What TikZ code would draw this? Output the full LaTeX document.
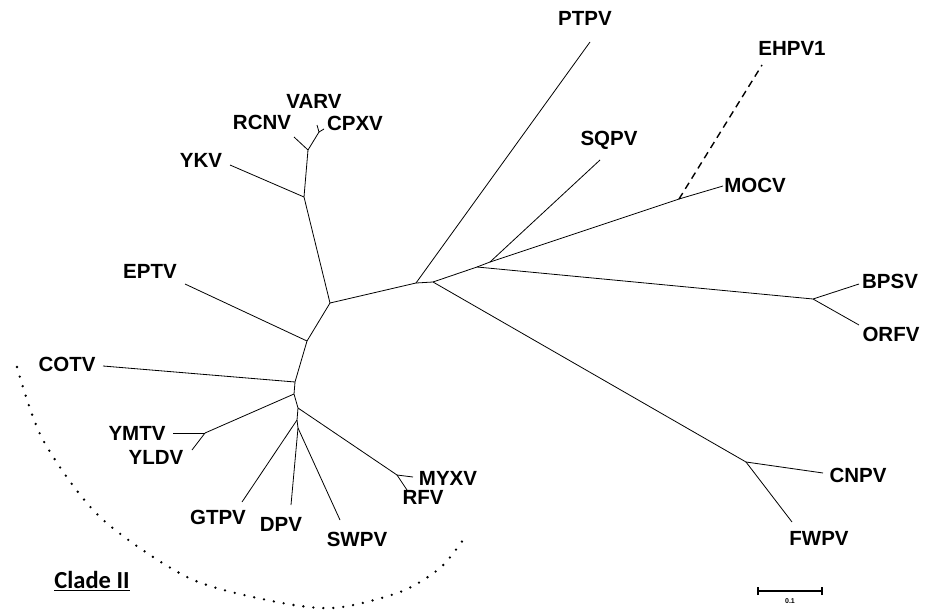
\documentclass[tikz,border=0pt]{standalone}
\usepackage{fontspec}
\setmainfont{Liberation Sans}
\newfontfamily\cladefont{Carlito}
\usepackage{tikz}
\usetikzlibrary{calc,positioning}
\tikzset{
  branch/.style={
      line width=0.8pt,
  },
  taxon/.style={
      font=\fontsize{20.5}{22}\selectfont\bfseries,
      inner sep=0pt,
  },
  unsure/.style={
      line width=1.4pt,
      dash pattern=on 7pt off 5pt,
  },
  cladearc/.style={
      line width=2.6pt,
      line cap=round,
      dash pattern=on 0pt off 10pt,
  },
}
\newcommand{\cladename}[1]{
    {\cladefont\bfseries\underline{#1}}
}

\begin{document}
\begin{tikzpicture}[x=1pt,y=-1pt]
  \useasboundingbox (0,0) rectangle (933,610);

  \coordinate (n1)  at (330,303);
  \coordinate (n2)  at (416,283);
  \coordinate (n3)  at (433,282);
  \coordinate (n4)  at (477,267);
  \coordinate (n5)  at (490,262);
  \coordinate (n6)  at (679,199);
  \coordinate (n7)  at (813,299);
  \coordinate (n8)  at (746,462);
  \coordinate (n9)  at (304,197);
  \coordinate (n10) at (308,150);
  \coordinate (n11) at (319,132);
  \coordinate (n12) at (307,341);
  \coordinate (n13) at (295,382);
  \coordinate (n14) at (294,394);
  \coordinate (n15) at (205,433);
  \coordinate (n16) at (298,408);
  \coordinate (n17) at (397,475);
  \coordinate (n18) at (297,420);
  \coordinate (n19) at (298,428);

  \coordinate (PTPV)  at (590,42);
  \coordinate (SQPV)  at (600,160);
  \coordinate (MOCV)  at (723,186);
  \coordinate (EHPV1) at (762,65);
  \coordinate (BPSV)  at (859,284);
  \coordinate (ORFV)  at (859,325);
  \coordinate (CNPV)  at (823,473);
  \coordinate (FWPV)  at (792,522);
  \coordinate (YKV)   at (230,165);
  \coordinate (RCNV)  at (294,137);
  \coordinate (VARV)  at (317,125);
  \coordinate (CPXV)  at (324,129);
  \coordinate (EPTV)  at (185,284);
  \coordinate (COTV)  at (103,366);
  \coordinate (YMTV)  at (173,433);
  \coordinate (YLDV)  at (192,450);
  \coordinate (GTPV)  at (242,502);
  \coordinate (DPV)   at (291,505);
  \coordinate (SWPV)  at (340,520);
  \coordinate (MYXV)  at (413,477);
  \coordinate (RFV)   at (407,490);

  \path[branch]
  (n1)  edge (n2)
  (n2)  edge (n3)
  (n2)  edge (PTPV)
  (n3)  edge (n4)
  (n3)  edge (n8)
  (n4)  edge (n5)
  (n4)  edge (n7)
  (n5)  edge (SQPV)
  (n5)  edge (n6)
  (n6)  edge (MOCV)
  (n7)  edge (BPSV)
  (n7)  edge (ORFV)
  (n8)  edge (CNPV)
  (n8)  edge (FWPV)
  (n1)  edge (n9)
  (n9)  edge (YKV)
  (n9)  edge (n10)
  (n10) edge (RCNV)
  (n10) edge (n11)
  (n11) edge (VARV)
  (n11) edge (CPXV)
  (n1)  edge (n12)
  (n12) edge (EPTV)
  (n12) edge (n13)
  (n13) edge (COTV)
  (n13) edge (n14)
  (n14) edge (n15)
  (n15) edge (YMTV)
  (n15) edge (YLDV)
  (n14) edge (n16)
  (n16) edge (n17)
  (n17) edge (MYXV)
  (n17) edge (RFV)
  (n16) edge (n18)
  (n18) edge (GTPV)
  (n18) edge (n19)
  (n19) edge (DPV)
  (n19) edge (SWPV)
  ;
  \draw[unsure] (n6) -- (EHPV1);

  \node(lPTPV)  [taxon] at (585,18)  {PTPV};
  \node(lSQPV)  [taxon] at (609,140) {SQPV};
  \node(lMOCV)  [taxon] at (755,185) {MOCV};
  \node(lEHPV1) [taxon] at (792,48)  {EHPV1};
  \node(lBPSV)  [taxon] at (890,281) {BPSV};
  \node(lORFV)  [taxon] at (891,334) {ORFV};
  \node(lCNPV)  [taxon] at (858,475) {CNPV};
  \node(lFWPV)  [taxon] at (819,538) {FWPV};
  \node(lYKV)   [taxon] at (201,160) {YKV};
  \node(lRCNV)  [taxon] at (262,122) {RCNV};
  \node(lVARV)  [taxon] at (314,101) {VARV};
  \node(lCPXV)  [taxon] at (355,123) {CPXV};
  \node(lEPTV)  [taxon] at (150,271) {EPTV};
  \node(lCOTV)  [taxon] at (67,364)  {COTV};
  \node(lYMTV)  [taxon] at (137,433) {YMTV};
  \node(lYLDV)  [taxon] at (156,457) {YLDV};
  \node(lGTPV)  [taxon] at (218,517) {GTPV};
  \node(lDPV)   [taxon] at (281,524) {DPV};
  \node(lSWPV)  [taxon] at (357,539) {SWPV};
  \node(lMYXV)  [taxon] at (448,478) {MYXV};
  \node(lRFV)   [taxon] at (423,497) {RFV};

  \draw[cladearc] plot[smooth] coordinates {(17,367) (43,440) (100,517)
    (187,577) (267,600) (333,608) (400,592) (440,568) (463,540)};
  \node(clade) [inner sep=0pt, font=\fontsize{24.5}{26}\selectfont] at (92,581) {\cladename{Clade II}};

  \coordinate (bar1) at (758,591);
  \coordinate (bar2) at (822,591);
  \coordinate (barmid) at ($(bar1)!0.5!(bar2)$);
  \draw[line width=1.2pt] (bar1) -- (bar2);
  \draw[line width=1.2pt] ([yshift=-4pt]bar1) -- ([yshift=4pt]bar1);
  \draw[line width=1.2pt] ([yshift=-4pt]bar2) -- ([yshift=4pt]bar2);
  \node(barlabel) [inner sep=0pt, font=\fontsize{7}{8}\selectfont\bfseries, below=7pt of barmid] {0.1};
\end{tikzpicture}
\end{document}
